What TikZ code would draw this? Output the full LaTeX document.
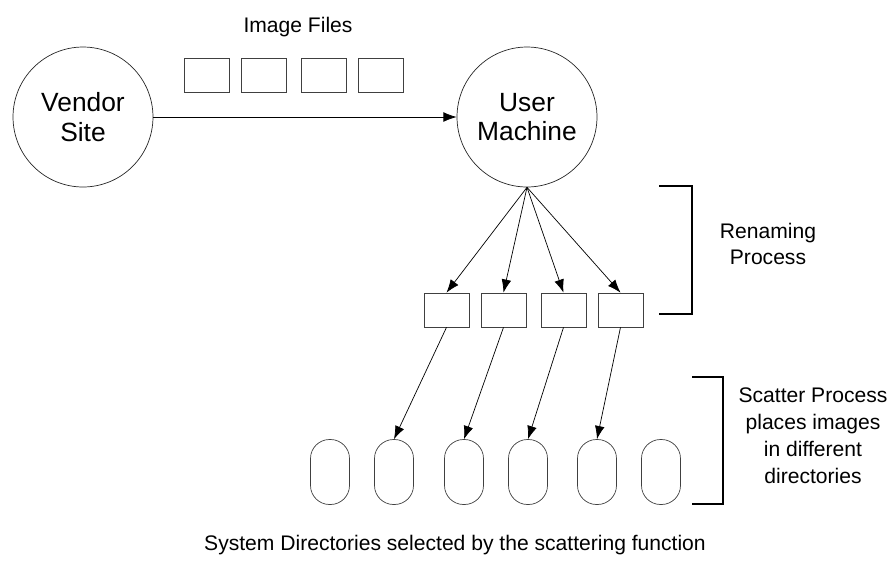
\documentclass[tikz,border=0pt]{standalone}
\usepackage{fontspec}
\setmainfont{Liberation Sans}
\usepackage{tikz}
\usetikzlibrary{arrows.meta}

\begin{document}
\begin{tikzpicture}[x=0.02cm, y=-0.02cm, > = {Latex[length=7.5pt,width=5.5pt]},
    site/.style={draw=black!85, circle, minimum size=2.8cm, inner sep=0pt, align=center, font=\fontsize{15}{17}\selectfont},
    file/.style={draw=black!75, rectangle, minimum width=0.9cm, minimum height=0.68cm, inner sep=0pt},
    dir/.style={draw=black!75, rectangle, rounded corners=0.38cm, minimum width=0.78cm, minimum height=1.3cm, inner sep=0pt},
    lbl/.style={align=center, font=\fontsize{12}{15.3}\selectfont}]
        \useasboundingbox (0,0) rectangle (894,566);

        \node[site] (vendor) at (83,117) {Vendor\\Site};
        \node[site] (user) at (527,117) {User\\Machine};
        \path[draw, ->] (vendor) -- (user);

        \node[lbl] (files) at (298,27) {Image Files};
        \node[file] (f1) at (206.5,75) {};
        \node[file] (f2) at (264,75) {};
        \node[file] (f3) at (324,75) {};
        \node[file] (f4) at (380.5,75) {};

        % renaming
        \node[file] (r1) at (446.5,310) {};
        \node[file] (r2) at (503.5,310) {};
        \node[file] (r3) at (563.5,310) {};
        \node[file] (r4) at (620.5,310) {};
        \path[draw, ->] (user.south) -- (r1.north);
        \path[draw, ->] (user.south) -- (r2.north);
        \path[draw, ->] (user.south) -- (r3.north);
        \path[draw, ->] (user.south) -- (r4.north);
        \path[draw, thick] (659,186) -- (692,186) -- (692,314) -- (659,314);
        \node[lbl] (rename) at (768,244) {Renaming\\Process};

        % scattering
        \node[dir] (d1) at (330,472) {};
        \node[dir] (d2) at (394,472) {};
        \node[dir] (d3) at (464,472) {};
        \node[dir] (d4) at (528,472) {};
        \node[dir] (d5) at (597,472) {};
        \node[dir] (d6) at (661,472) {};
        \path[draw, ->] (r1.south) -- (d2.north);
        \path[draw, ->] (r2.south) -- (d3.north);
        \path[draw, ->] (r3.south) -- (d4.north);
        \path[draw, ->] (r4.south) -- (d5.north);
        \path[draw, thick] (692,377) -- (723,377) -- (723,504) -- (692,504);
        \node[lbl] (scatter) at (813,436) {Scatter Process\\places images\\in different\\directories};

        \node[lbl] (sysdirs) at (455,545) {System Directories selected by the scattering function};
\end{tikzpicture}
\end{document}
